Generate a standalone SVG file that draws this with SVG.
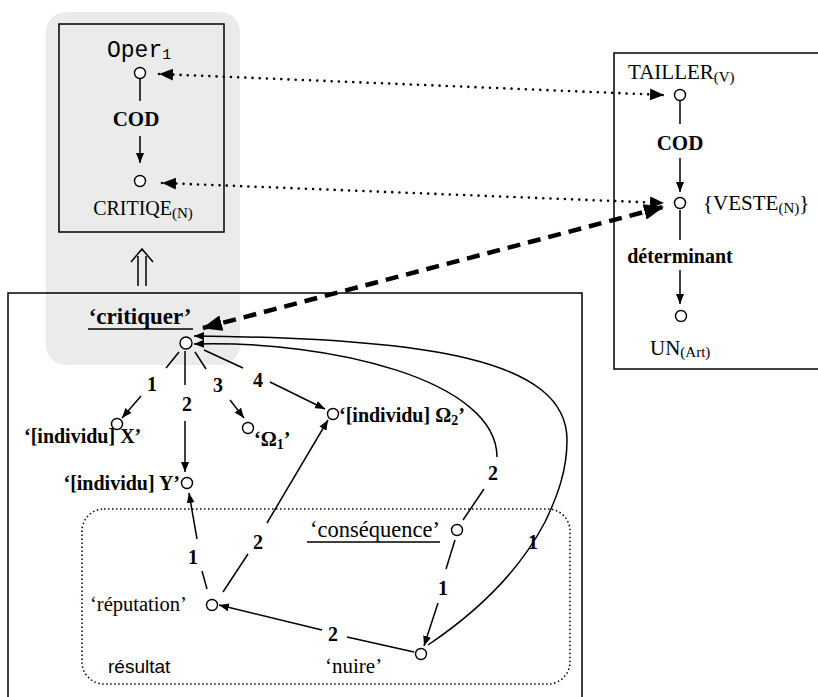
<svg xmlns="http://www.w3.org/2000/svg" width="818" height="697" viewBox="0 0 818 697">
<style>
.serif{font-family:"Liberation Serif","Times New Roman",serif;fill:#000}
.b{font-weight:bold}
.mono{font-family:"Liberation Mono","Courier New",monospace;fill:#000}
.sans{font-family:"Liberation Sans",Arial,sans-serif;fill:#000}
.node{fill:#fff;stroke:#000;stroke-width:1.4}
.ln{stroke:#000;stroke-width:1.5;fill:none}
.arr{stroke:#000;stroke-width:1.5;fill:none;marker-end:url(#ah)}
.dot{stroke:#000;stroke-width:2.6;fill:none;stroke-linecap:round;stroke-dasharray:0 7.2;marker-start:url(#dh);marker-end:url(#dh)}
.dash{stroke:#000;stroke-width:4.5;fill:none;stroke-dasharray:13 8;marker-start:url(#bh);marker-end:url(#bh)}
</style>
<defs>
<marker id="ah" markerUnits="userSpaceOnUse" markerWidth="10" markerHeight="8" refX="10" refY="4" orient="auto"><path d="M0,0 L10,4 L0,8 z" fill="#000"/></marker>
<marker id="dh" markerUnits="userSpaceOnUse" markerWidth="14" markerHeight="12" refX="14" refY="6" orient="auto-start-reverse"><path d="M0,0 L14,6 L0,12 z" fill="#000"/></marker>
<marker id="bh" markerUnits="userSpaceOnUse" markerWidth="20" markerHeight="16" refX="19" refY="8" orient="auto-start-reverse"><path d="M0,0 L20,8 L0,16 z" fill="#000"/></marker>
</defs>
<rect width="818" height="697" fill="#fff"/>

<g id="highlight">
<rect x="46" y="12" width="194" height="353" rx="20" fill="#ebebeb"/>
</g>

<g id="box-main">
<rect x="8" y="293" width="574" height="430" fill="none" stroke="#000" stroke-width="1.5"/>
</g>
<g id="box-resultat">
<rect x="82" y="509" width="488" height="175" rx="22" fill="none" stroke="#000" stroke-width="1.5" stroke-dasharray="1.5 2.5"/>
<text class="sans" x="108" y="673" font-size="19">résultat</text>
</g>

<g id="box-oper">
<rect x="59" y="24" width="165" height="208" fill="none" stroke="#000" stroke-width="1.5"/>
</g>
<g id="box-tailler">
<rect x="614" y="53" width="220" height="316" fill="#fff" stroke="#000" stroke-width="1.5"/>
</g>

<g id="connectors">
<line class="ln" x1="140" y1="79" x2="140" y2="101"/>
<line class="arr" x1="140" y1="136" x2="140" y2="163"/>
<line class="ln" x1="680" y1="101" x2="680" y2="124"/>
<line class="arr" x1="680" y1="158" x2="680" y2="192"/>
<line class="ln" x1="680" y1="210" x2="680" y2="240"/>
<line class="arr" x1="680" y1="270" x2="680" y2="304"/>
<line class="dot" x1="159" y1="74" x2="664" y2="95"/>
<line class="dot" x1="162" y1="183" x2="664" y2="203"/>
<line class="dash" x1="203" y1="328" x2="663" y2="207"/>
<path class="ln" d="M138,286 V256 M146,286 V256 M131,262 L142,249 L153,262"/>
<!-- critiquer arguments -->
<line class="ln" x1="179" y1="352" x2="166" y2="368"/>
<line class="arr" x1="141" y1="396" x2="122" y2="418"/>
<line class="ln" x1="185" y1="351" x2="185" y2="385"/>
<line class="arr" x1="185" y1="421" x2="185" y2="472"/>
<line class="ln" x1="195" y1="352" x2="206" y2="369"/>
<line class="arr" x1="230" y1="400" x2="244" y2="418"/>
<line class="ln" x1="204" y1="350" x2="243" y2="368"/>
<line class="arr" x1="270" y1="382" x2="325" y2="409"/>
<!-- resultat internals -->
<line class="ln" x1="207" y1="589" x2="202" y2="571"/>
<line class="arr" x1="197" y1="539" x2="189" y2="493"/>
<line class="ln" x1="223" y1="592" x2="248" y2="554"/>
<line class="arr" x1="267" y1="523" x2="328" y2="420"/>
<line class="ln" x1="414" y1="652" x2="347" y2="637"/>
<line class="arr" x1="322" y1="630" x2="219" y2="605"/>
<line class="ln" x1="455" y1="540" x2="446" y2="569"/>
<line class="arr" x1="438" y1="603" x2="424" y2="646"/>
<line class="ln" x1="463" y1="520" x2="484" y2="489"/>
<path class="arr" d="M497,457 C497,380 330,340 194,344"/>
<path class="ln" d="M428,645 C480,610 520,570 545,522"/>
<path class="arr" d="M545,522 C558,495 567,470 567,440 C567,360 430,338 194,336"/>
</g>

<g id="labels" class="serif b" font-size="20" text-anchor="middle">
<text x="152" y="391">1</text>
<text x="187" y="411">2</text>
<text x="218" y="392">3</text>
<text x="258" y="387">4</text>
<text x="493" y="480">2</text>
<text x="533" y="549">1</text>
<text x="443" y="595">1</text>
<text x="333" y="641">2</text>
<text x="193" y="564">1</text>
<text x="258" y="549">2</text>
</g>

<g id="n-oper">
<circle class="node" cx="140" cy="73" r="5.5"/>
<text class="mono" x="107" y="57" font-size="23">Oper<tspan font-size="15" dy="2">1</tspan></text>
</g>
<g id="cod-left"><text class="serif b" x="136" y="126" font-size="21" text-anchor="middle">COD</text></g>
<g id="n-critiqe">
<circle class="node" cx="140" cy="181" r="5.5"/>
<text class="serif" x="143" y="215" font-size="20" text-anchor="middle">CRITIQE<tspan font-size="15" dy="3">(N)</tspan></text>
</g>

<g id="n-tailler">
<circle class="node" cx="680" cy="95" r="5.5"/>
<text class="serif" x="628" y="79" font-size="21">TAILLER<tspan font-size="15" dy="3">(V)</tspan></text>
</g>
<g id="cod-right"><text class="serif b" x="680" y="150" font-size="21" text-anchor="middle">COD</text></g>
<g id="n-veste">
<circle class="node" cx="680" cy="203" r="5.5"/>
<text class="serif" x="703" y="210" font-size="21">{VESTE<tspan font-size="15" dy="3">(N)</tspan><tspan dy="-3">}</tspan></text>
</g>
<g id="det"><text class="serif b" x="680" y="263" font-size="20" text-anchor="middle">déterminant</text></g>
<g id="n-un">
<circle class="node" cx="681" cy="316" r="5.5"/>
<text class="serif" x="650" y="355" font-size="21">UN<tspan font-size="15" dy="2">(Art)</tspan></text>
</g>

<g id="n-critiquer">
<circle class="node" cx="186" cy="343" r="6"/>
<text class="serif b" x="140" y="324" font-size="23" text-anchor="middle">‘critiquer’</text>
<line x1="88" y1="329" x2="193" y2="329" stroke="#000" stroke-width="1.6"/>
</g>
<g id="n-x">
<circle class="node" cx="117" cy="424" r="5.5"/>
<text class="serif b" x="24" y="443" font-size="20">‘[individu] X’</text>
</g>
<g id="n-y">
<circle class="node" cx="187" cy="483" r="5.5"/>
<text class="serif b" x="180" y="490" font-size="20" text-anchor="end">‘[individu] Y’</text>
</g>
<g id="n-omega1">
<circle class="node" cx="248" cy="428" r="5.5"/>
<text class="serif b" x="254" y="446" font-size="20">‘Ω<tspan font-size="14" dy="3">1</tspan><tspan dy="-3">’</tspan></text>
</g>
<g id="n-omega2">
<circle class="node" cx="333" cy="414" r="5.5"/>
<text class="serif b" x="339" y="422" font-size="20">‘[individu] Ω<tspan font-size="14" dy="3">2</tspan><tspan dy="-3">’</tspan></text>
</g>
<g id="n-consequence">
<circle class="node" cx="457" cy="530" r="5.5"/>
<text class="serif" x="440" y="537" font-size="22.5" text-anchor="end">‘conséquence’</text>
<line x1="307" y1="542" x2="440" y2="542" stroke="#000" stroke-width="1.3"/>
</g>
<g id="n-reputation">
<circle class="node" cx="212" cy="605" r="5.5"/>
<text class="serif" x="90" y="611" font-size="20.5">‘réputation’</text>
</g>
<g id="n-nuire">
<circle class="node" cx="421" cy="654" r="5.5"/>
<text class="serif" x="325" y="673" font-size="21">‘nuire’</text>
</g>
</svg>
